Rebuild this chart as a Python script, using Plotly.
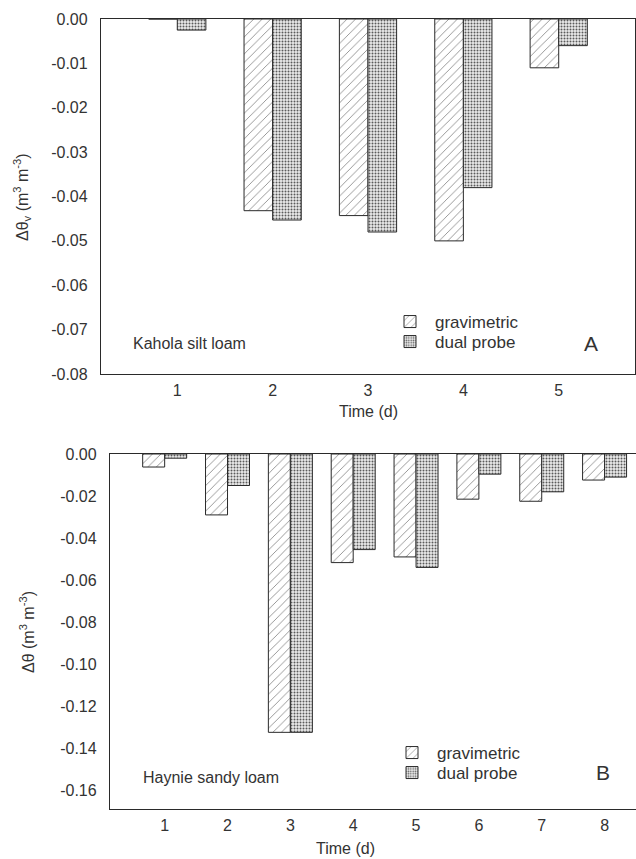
import plotly.graph_objects as go

# Panel A: Kahola silt loam
days_a = [1, 2, 3, 4, 5]
grav_a = [0.0, -0.0432, -0.0443, -0.0500, -0.0110]
dual_a = [-0.0025, -0.0453, -0.0480, -0.0380, -0.0060]
yticks_a = [0.0, -0.01, -0.02, -0.03, -0.04, -0.05, -0.06, -0.07, -0.08]
ylabels_a = ["0.00", "-0.01", "-0.02", "-0.03", "-0.04", "-0.05", "-0.06", "-0.07", "-0.08"]

# Panel B: Haynie sandy loam
days_b = [1, 2, 3, 4, 5, 6, 7, 8]
grav_b = [-0.0062, -0.029, -0.1325, -0.0517, -0.049, -0.0215, -0.0225, -0.0124]
dual_b = [-0.0020, -0.015, -0.1325, -0.0455, -0.054, -0.0096, -0.018, -0.011]
yticks_b = [0.0, -0.02, -0.04, -0.06, -0.08, -0.10, -0.12, -0.14, -0.16]
ylabels_b = ["0.00", "-0.02", "-0.04", "-0.06", "-0.08", "-0.10", "-0.12", "-0.14", "-0.16"]

W, H = 636, 859
FONT = "Liberation Sans, Arial, sans-serif"
TXT = "#333333"
LINE = "#2a2a2a"

def px_x(p):
    return p / W

def px_y(p):
    return 1 - p / H

grav_style = dict(color="white", line=dict(color=LINE, width=1),
                  pattern=dict(shape="/", fgcolor="#8f8f8f", bgcolor="white", size=6, solidity=0.15))
dual_style = dict(color="white", line=dict(color=LINE, width=1),
                  pattern=dict(shape=".", fgcolor="#5a5a5a", bgcolor="#ececec", size=3, solidity=0.35))

fig = go.Figure()
wa = 0.3
fig.add_trace(go.Bar(x=days_a, y=grav_a, width=wa, offset=-wa, marker=grav_style,
                     name="gravimetric", xaxis="x", yaxis="y", legend="legend"))
fig.add_trace(go.Bar(x=days_a, y=dual_a, width=wa, offset=0, marker=dual_style,
                     name="dual probe", xaxis="x", yaxis="y", legend="legend2"))
wb = 0.35
fig.add_trace(go.Bar(x=days_b, y=grav_b, width=wb, offset=-wb, marker=grav_style,
                     name="gravimetric", xaxis="x2", yaxis="y2", legend="legend3"))
fig.add_trace(go.Bar(x=days_b, y=dual_b, width=wb, offset=0, marker=dual_style,
                     name="dual probe", xaxis="x2", yaxis="y2", legend="legend4"))

axis_common = dict(showgrid=False, zeroline=False, showline=True, linecolor=LINE, linewidth=1.3,
                   mirror=True, ticks="", automargin=False,
                   tickfont=dict(family=FONT, size=16, color=TXT))

legend_common = dict(xanchor="left", yanchor="middle", bgcolor="rgba(0,0,0,0)",
                     font=dict(family=FONT, size=17, color=TXT), tracegroupgap=0, itemwidth=40)

fig.update_layout(
    template="none",
    width=W, height=H, margin=dict(l=0, r=0, t=0, b=0),
    paper_bgcolor="white", plot_bgcolor="white",
    barmode="overlay", showlegend=True,
    xaxis=dict(domain=[px_x(101), px_x(635)], anchor="y", range=[0.2, 5.8],
               tickvals=days_a, ticklabelstandoff=2, **axis_common),
    yaxis=dict(domain=[px_y(374), px_y(19)], anchor="x", range=[-0.08, 0.0],
               tickvals=yticks_a, ticktext=ylabels_a, ticklabelstandoff=9, **axis_common),
    xaxis2=dict(domain=[px_x(110), 1.0], anchor="y2", range=[0.13, 8.5],
                tickvals=days_b, ticklabelstandoff=2, **axis_common),
    yaxis2=dict(domain=[px_y(809), px_y(454)], anchor="x2", range=[-0.169, 0.0],
                tickvals=yticks_b, ticktext=ylabels_b, ticklabelstandoff=9, **axis_common),
    legend=dict(x=px_x(385), y=px_y(322), **legend_common),
    legend2=dict(x=px_x(385), y=px_y(342), **legend_common),
    legend3=dict(x=px_x(387), y=px_y(753), **legend_common),
    legend4=dict(x=px_x(387), y=px_y(773), **legend_common),
)

ann = [
    dict(text="Time (d)", x=px_x(368), y=px_y(411)),
    dict(text="Time (d)", x=px_x(345), y=px_y(848)),
    dict(text="Δθ<sub>v</sub> (m<sup>3</sup> m<sup>-3</sup>)", x=px_x(22), y=px_y(197), textangle=-90),
    dict(text="Δθ (m<sup>3</sup> m<sup>-3</sup>)", x=px_x(27), y=px_y(632), textangle=-90),
    dict(text="Kahola silt loam", x=px_x(189), y=px_y(343)),
    dict(text="Haynie sandy loam", x=px_x(211), y=px_y(777)),
    dict(text="A", x=px_x(591), y=px_y(343), size=21),
    dict(text="B", x=px_x(603), y=px_y(772), size=21),
]
for a in ann:
    size = a.pop("size", 16)
    fig.add_annotation(xref="paper", yref="paper", showarrow=False, xanchor="center", yanchor="middle",
                       font=dict(family=FONT, size=size, color=TXT), **a)

fig.write_html("out.html", config={"displayModeBar": False},
               post_script="document.body.style.margin='0';document.body.style.overflow='hidden';")
